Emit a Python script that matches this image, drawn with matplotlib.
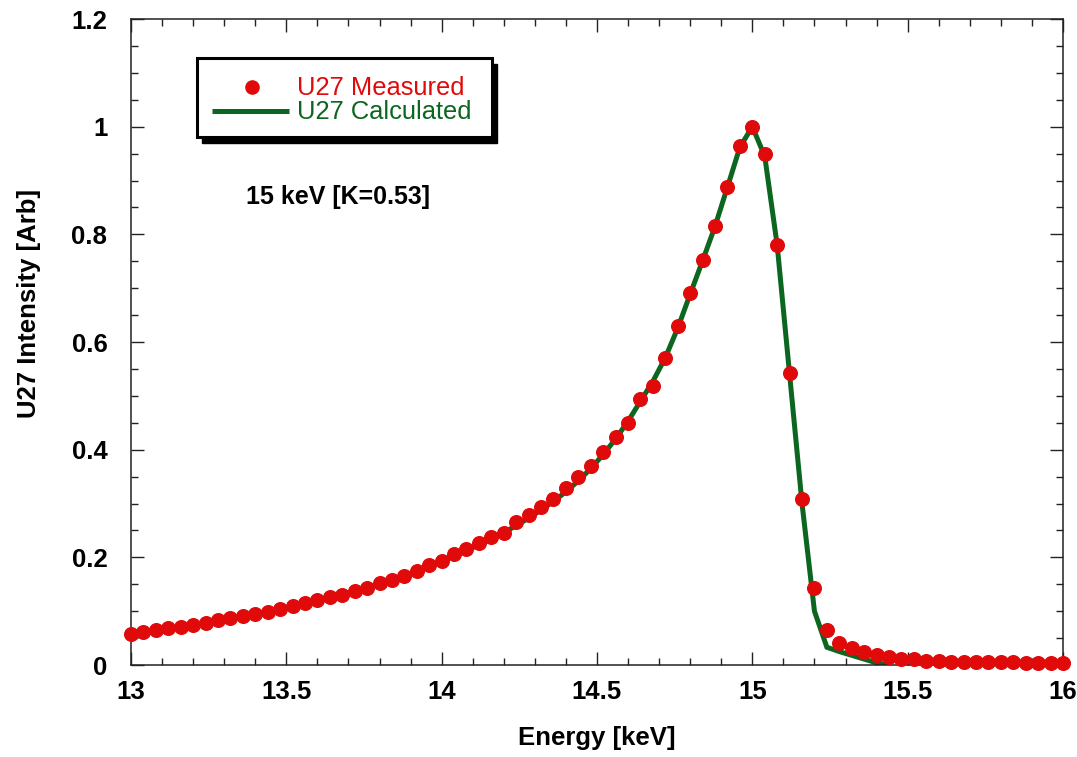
"""U27 undulator spectrum at 15 keV: measured points vs calculated curve."""

import matplotlib

matplotlib.use("Agg")
import matplotlib.pyplot as plt
from matplotlib.patches import Rectangle
from matplotlib.ticker import MultipleLocator, FormatStrFormatter

plt.rcParams["font.family"] = ["Liberation Sans", "DejaVu Sans"]

# ---------------------------------------------------------------------------
# Data
# ---------------------------------------------------------------------------
ENERGY = [
    13.00, 13.04, 13.08, 13.12, 13.16, 13.20, 13.24, 13.28, 13.32, 13.36,
    13.40, 13.44, 13.48, 13.52, 13.56, 13.60, 13.64, 13.68, 13.72, 13.76,
    13.80, 13.84, 13.88, 13.92, 13.96, 14.00, 14.04, 14.08, 14.12, 14.16,
    14.20, 14.24, 14.28, 14.32, 14.36, 14.40, 14.44, 14.48, 14.52, 14.56,
    14.60, 14.64, 14.68, 14.72, 14.76, 14.80, 14.84, 14.88, 14.92, 14.96,
    15.00, 15.04, 15.08, 15.12, 15.16, 15.20, 15.24, 15.28, 15.32, 15.36,
    15.40, 15.44, 15.48, 15.52, 15.56, 15.60, 15.64, 15.68, 15.72, 15.76,
    15.80, 15.84, 15.88, 15.92, 15.96, 16.00,
]

MEASURED = [
    0.058, 0.062, 0.065, 0.068, 0.071, 0.074, 0.078, 0.083, 0.087, 0.091,
    0.094, 0.099, 0.104, 0.110, 0.115, 0.120, 0.126, 0.130, 0.138, 0.144,
    0.152, 0.158, 0.166, 0.175, 0.185, 0.194, 0.206, 0.215, 0.226, 0.238,
    0.245, 0.265, 0.279, 0.294, 0.308, 0.328, 0.349, 0.369, 0.395, 0.424,
    0.450, 0.494, 0.519, 0.571, 0.629, 0.691, 0.752, 0.815, 0.888, 0.965,
    1.000, 0.949, 0.781, 0.542, 0.309, 0.144, 0.065, 0.041, 0.031, 0.024,
    0.018, 0.014, 0.012, 0.011, 0.008, 0.007, 0.0065, 0.0065, 0.006, 0.0055,
    0.005, 0.005, 0.0045, 0.0045, 0.004, 0.004,
]

# calculated curve stops at 15.44 keV
ENERGY_CALC = ENERGY[:62]
CALCULATED = [
    0.058, 0.061, 0.064, 0.067, 0.071, 0.074, 0.078, 0.082, 0.086, 0.090,
    0.094, 0.099, 0.104, 0.109, 0.114, 0.120, 0.125, 0.131, 0.137, 0.144,
    0.151, 0.158, 0.166, 0.174, 0.183, 0.193, 0.203, 0.213, 0.223, 0.234,
    0.246, 0.259, 0.273, 0.288, 0.304, 0.322, 0.342, 0.365, 0.391, 0.420,
    0.453, 0.490, 0.527, 0.571, 0.626, 0.689, 0.751, 0.815, 0.888, 0.962,
    1.000, 0.945, 0.780, 0.540, 0.300, 0.100, 0.033, 0.025, 0.018, 0.011,
    0.004, 0.000,
]

LABEL_MEAS = "U27 Measured"
LABEL_CALC = "U27 Calculated"
NOTE = "15 keV [K=0.53]"

C_RED = "#e00a0a"
C_GREEN = "#0b661f"
C_AXIS = "#222222"

# ---------------------------------------------------------------------------
# Plot
# ---------------------------------------------------------------------------
fig = plt.figure(figsize=(10.77, 7.57), dpi=100)
ax = fig.add_axes([0.1216, 0.1215, 0.8654, 0.8534])

ax.plot(ENERGY_CALC, CALCULATED, color=C_GREEN, lw=3.6, zorder=2,
        solid_joinstyle="miter")
ax.plot(ENERGY, MEASURED, ls="none", marker="o", ms=9.8, color=C_RED,
        mec=C_RED, zorder=3, clip_on=False)

ax.set_xlim(13, 16)
ax.set_ylim(0, 1.2)
ax.xaxis.set_major_locator(MultipleLocator(0.5))
ax.xaxis.set_minor_locator(MultipleLocator(0.1))
ax.yaxis.set_major_locator(MultipleLocator(0.2))
ax.yaxis.set_minor_locator(MultipleLocator(0.05))
ax.xaxis.set_major_formatter(FormatStrFormatter("%g"))
ax.yaxis.set_major_formatter(FormatStrFormatter("%g"))

ax.tick_params(which="both", direction="in", top=True, right=True,
               color=C_AXIS, width=1.0)
ax.tick_params(which="major", length=9.5)
ax.tick_params(which="minor", length=5)
ax.tick_params(axis="x", which="major", pad=11)
ax.tick_params(axis="y", which="major", pad=17)
for lbl in ax.get_xticklabels() + ax.get_yticklabels():
    lbl.set_fontsize(18.5)
    lbl.set_fontweight("bold")

for sp in ax.spines.values():
    sp.set_color(C_AXIS)
    sp.set_linewidth(1.1)

ax.set_xlabel("Energy [keV]", fontsize=18.5, fontweight="bold")
ax.set_ylabel("U27 Intensity [Arb]", fontsize=18.5, fontweight="bold")
ax.xaxis.set_label_coords(0.5, -0.095)
ax.yaxis.set_label_coords(-0.097, 0.56)

ax.text(0.1234, 0.7245, NOTE, transform=ax.transAxes, fontsize=18,
        fontweight="bold", ha="left", va="center")

# legend box with hard black drop shadow
bx, by, bw, bh = 0.0708, 0.8173, 0.3165, 0.1223
ax.add_patch(Rectangle((bx + 0.0055, by - 0.0085), bw, bh, transform=ax.transAxes,
                       facecolor="black", edgecolor="black", zorder=4))
ax.add_patch(Rectangle((bx, by), bw, bh, transform=ax.transAxes,
                       facecolor="white", edgecolor="black", lw=2.2, zorder=5))
ax.plot([0.1298], [0.8947], transform=ax.transAxes, marker="o", ms=9.5,
        color=C_RED, zorder=6, clip_on=False)
ax.plot([0.0869, 0.1695], [0.8576, 0.8576], transform=ax.transAxes,
        color=C_GREEN, lw=3.6, solid_capstyle="butt", zorder=6, clip_on=False)
ax.text(0.1781, 0.8930, LABEL_MEAS, transform=ax.transAxes, fontsize=18.4,
        color=C_RED, ha="left", va="center", zorder=6)
ax.text(0.1781, 0.8560, LABEL_CALC, transform=ax.transAxes, fontsize=18.4,
        color=C_GREEN, ha="left", va="center", zorder=6)

fig.savefig("out.png", dpi=100)
